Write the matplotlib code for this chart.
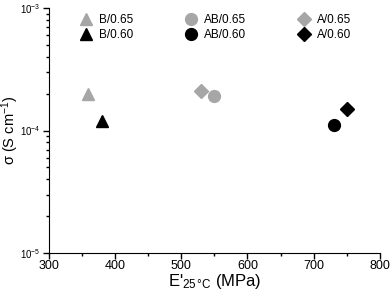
import matplotlib
matplotlib.use("Agg")
from matplotlib import pyplot as plt
from matplotlib.ticker import LogLocator, MultipleLocator, NullFormatter

plt.rcParams['font.family'] = ['Liberation Sans', 'DejaVu Sans']
plt.rcParams['mathtext.fontset'] = 'custom'
plt.rcParams['mathtext.rm'] = 'Liberation Sans'
plt.rcParams['mathtext.it'] = 'Liberation Sans'

# data
labels = ["B/0.65", "B/0.60", "AB/0.65", "AB/0.60", "A/0.65", "A/0.60"]
modulus = [360, 380, 550, 730, 530, 750]
sigma = [2.0e-4, 1.2e-4, 1.9e-4, 1.1e-4, 2.1e-4, 1.5e-4]
markers = ["^", "^", "o", "o", "D", "D"]
colors = ["#a6a6a6", "black", "#a6a6a6", "black", "#a6a6a6", "black"]
sizes = [9, 9, 8.5, 8.5, 7, 7]

fig = plt.figure(figsize=(3.9, 2.95), dpi=100)
ax = fig.add_axes([0.125, 0.142, 0.849, 0.831])

for lab, x, y, m, c, s in zip(labels, modulus, sigma, markers, colors, sizes):
    ax.plot([x], [y], linestyle="none", marker=m, color=c, markersize=s, label=lab)

ax.set_yscale("log")
ax.set_xlim(300, 800)
ax.set_ylim(1e-5, 1e-3)
ax.xaxis.set_major_locator(MultipleLocator(100))
ax.xaxis.set_minor_locator(MultipleLocator(50))
ax.yaxis.set_major_locator(LogLocator(base=10))
ax.yaxis.set_minor_locator(LogLocator(base=10, subs=range(2, 10)))
ax.yaxis.set_minor_formatter(NullFormatter())

for side in ["top", "right"]:
    ax.spines[side].set_visible(False)
ax.tick_params(which="major", direction="out", length=4, width=1, labelsize=9, pad=1)
ax.tick_params(axis="y", which="major", labelsize=7, pad=2)
ax.tick_params(which="minor", direction="out", length=2.5, width=1)

ax.set_xlabel("E'$_{25\\,°C}$ (MPa)", fontsize=12, labelpad=0)
ax.set_ylabel("σ (S cm$^{-1}$)", fontsize=10.5)
ax.yaxis.set_label_coords(-0.085, 0.5)

h, l = ax.get_legend_handles_labels()
ax.legend(h, l, ncol=3, loc="upper left", bbox_to_anchor=(0.06, 1.02),
          frameon=False, fontsize=8.5, columnspacing=4.3, handletextpad=0.5,
          handlelength=1.2, labelspacing=0.3)

fig.savefig("out.png", dpi=100)
